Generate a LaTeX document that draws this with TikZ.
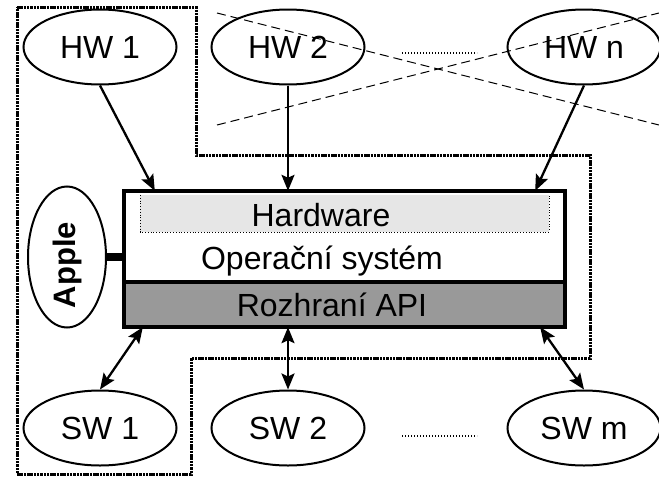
\documentclass[tikz,border=0pt]{standalone}
\usepackage{fontspec}
\setmainfont{Liberation Sans}
\usetikzlibrary{shapes.geometric,arrows.meta,calc}
\definecolor{hwgray}{HTML}{E6E6E6}
\definecolor{apigray}{HTML}{999999}
\begin{document}
\begin{tikzpicture}[x=1pt,y=-1pt,
  font=\fontsize{32}{38}\selectfont,
  oval/.style={ellipse,draw,line width=2pt,minimum width=153pt,minimum height=75pt,inner sep=0pt},
  arr/.style={line width=2.3pt,-{Stealth[length=16pt,width=13pt,inset=3pt]}},
  darr/.style={line width=2.3pt,{Stealth[length=16pt,width=13pt,inset=3pt]}-{Stealth[length=16pt,width=13pt,inset=3pt]}},
  region/.style={line width=3pt,dash pattern=on 2.5pt off 0.8pt},
  ellipsisline/.style={line width=1.5pt,dash pattern=on 1.2pt off 1.8pt},
  crossline/.style={line width=1pt,dash pattern=on 9pt off 5pt}]
\useasboundingbox (0,0) rectangle (659,477);
% dotted region
\draw[region] (17,7) -- (196,7) -- (196,155) -- (590,155) -- (590,358) -- (191,358) -- (191,474) -- (17,474) -- cycle;
% crossed-out area
\draw[crossline] (217,13) -- (659,125);
\draw[crossline] (217,125) -- (659,13);
% hardware ellipses
\node[oval] (hw1) at (100,47) {HW 1};
\node[oval] (hw2) at (288,47) {HW 2};
\node[oval] (hwn) at (584,47) {HW n};
% software ellipses
\node[oval] (sw1) at (100,428) {SW 1};
\node[oval] (sw2) at (288,428) {SW 2};
\node[oval] (swm) at (584,428) {SW m};
% ellipsis dots
\draw[ellipsisline] (402,53) -- (477,53);
\draw[ellipsisline] (402,436) -- (477,436);
% main box
\node[minimum width=441pt,minimum height=136pt,inner sep=0pt,fill=white] (box) at (344.5,259) {};
\fill[hwgray] (140,195) rectangle (549,232);
\draw[line width=0.8pt,dotted] (140,195) -- (140,232) -- (549,232) -- (549,195);
\fill[apigray] (box.west |- 0,282) rectangle (box.south east);
\draw[line width=3.5pt] (box.west |- 0,282) -- (box.east |- 0,282);
\draw[line width=3.5pt] (box.north west) rectangle (box.south east);
\node[anchor=base,inner sep=0pt] (hwtext) at (321,226) {Hardware};
\node[anchor=base,inner sep=0pt] (ostext) at (322,269) {Operační systém};
\node[anchor=base,inner sep=0pt] (apitext) at (332,316) {Rozhraní API};
% Apple
\node[ellipse,draw,line width=2pt,minimum width=78pt,minimum height=141pt,inner sep=0pt] (apple) at (67,257) {};
\node[inner sep=0pt,font=\fontsize{31}{36}\selectfont\bfseries] (appletext) at (67,265) {\rotatebox{90}{Apple}};
\draw[line width=8pt] (apple.east) -- (apple.east -| box.west);
% connectors
\draw[arr] (hw1.south) -- ($(box.north west)+(31,0)$);
\draw[arr] (hw2.south) -- (hw2.south |- box.north);
\draw[arr] (hwn.south) -- ($(box.north east)+(-30,0)$);
\draw[darr] ($(box.south west)+(19,0)$) -- (sw1.north);
\draw[darr] (sw2.north |- box.south) -- (sw2.north);
\draw[darr] ($(box.south east)+(-25,0)$) -- (swm.north);
\end{tikzpicture}
\end{document}
